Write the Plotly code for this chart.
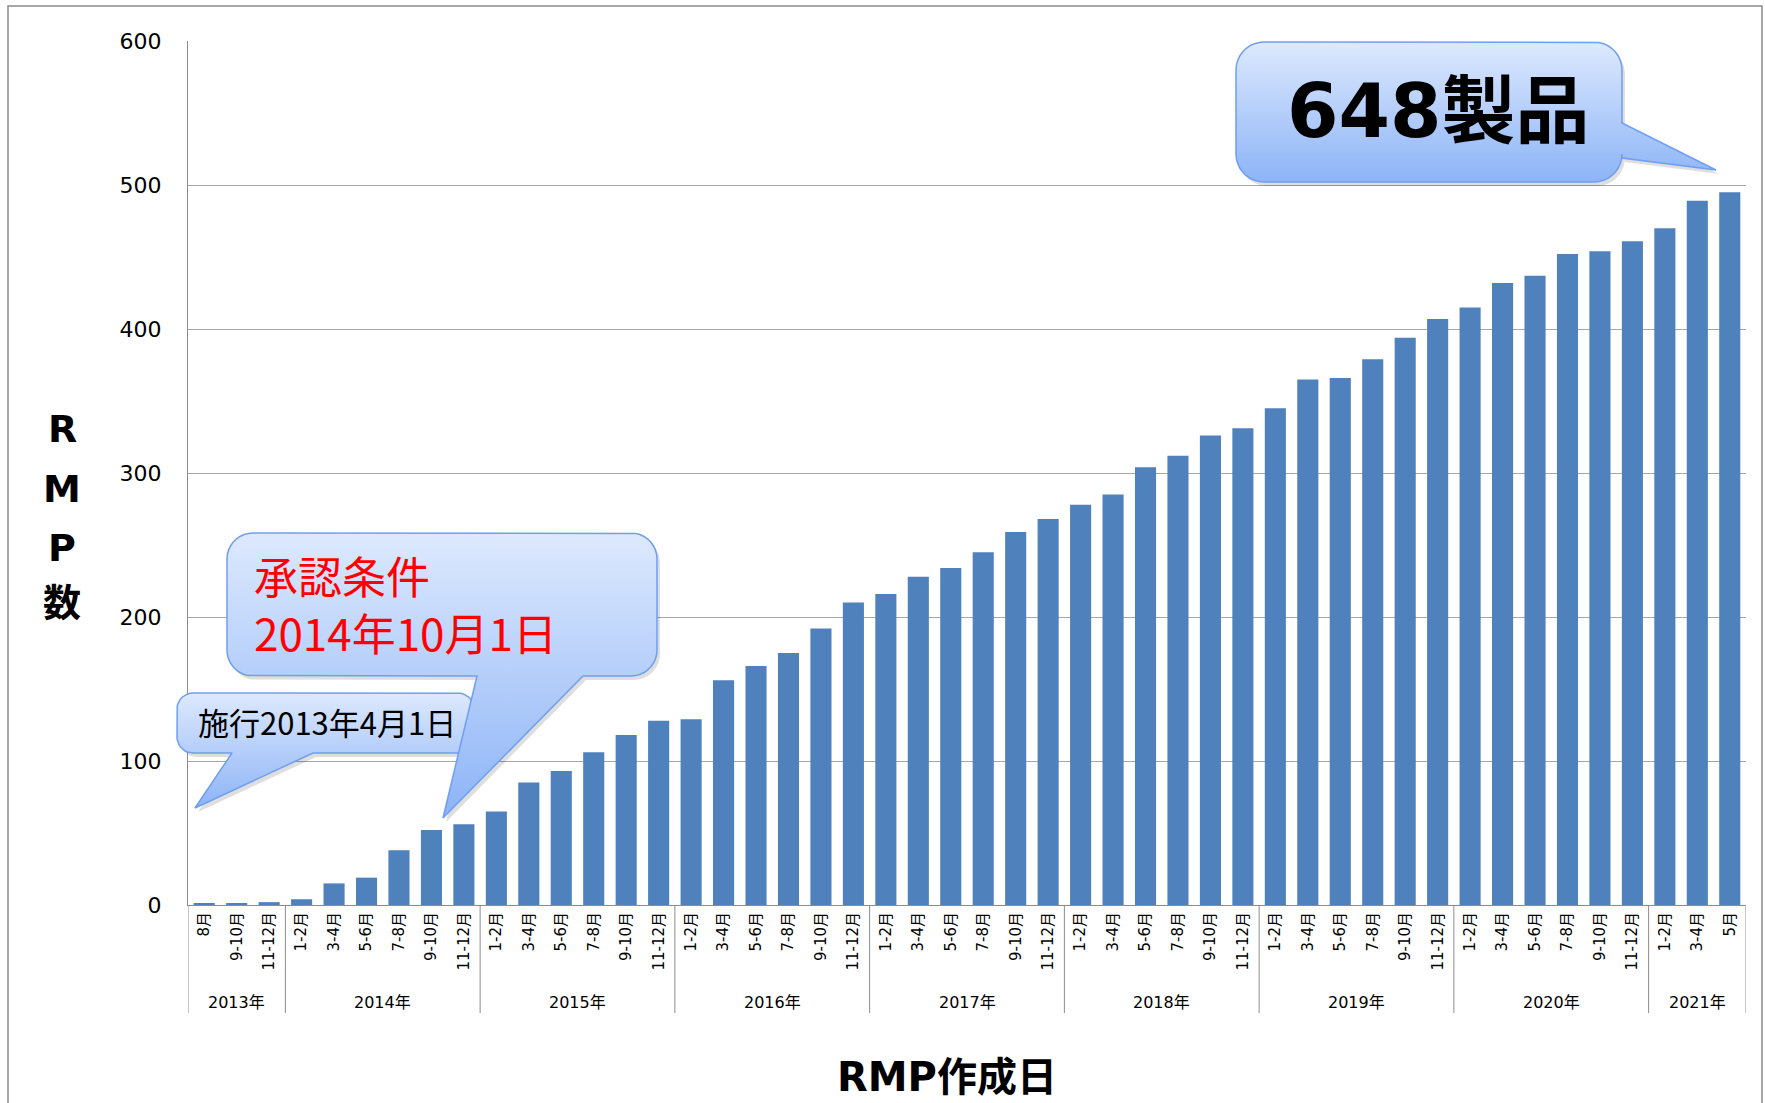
import numpy as np
import plotly.graph_objects as go

# ---------------- data ----------------
years = (["2013年"] * 3 + ["2014年"] * 6 + ["2015年"] * 6 + ["2016年"] * 6 +
         ["2017年"] * 6 + ["2018年"] * 6 + ["2019年"] * 6 + ["2020年"] * 6 +
         ["2021年"] * 3)
bi_months = ["1-2月", "3-4月", "5-6月", "7-8月", "9-10月", "11-12月"]
months = (["8月", "9-10月", "11-12月"] + bi_months * 7 +
          ["1-2月", "3-4月", "5月"])
rmp_counts = [1, 1, 2,
              4, 15, 19, 38, 52, 56,
              65, 85, 93, 106, 118, 128,
              129, 156, 166, 175, 192, 210,
              216, 228, 234, 245, 259, 268,
              278, 285, 304, 312, 326, 331,
              345, 365, 366, 379, 394, 407,
              415, 432, 437, 452, 454, 461,
              470, 489, 495]
y_ticks = [0, 100, 200, 300, 400, 500, 600]

W, H = 1765, 1103
BASE_FONT = "DejaVu Sans, Verdana, Noto Sans CJK JP, sans-serif"
CJK_FONT = "Noto Sans CJK JP, sans-serif"
BAR_COLOR = "#4f81bd"
GRID = "#a6a6a6"
AXIS = "#8c8c8c"

idx = list(range(len(months)))

fig = go.Figure()

fig.add_trace(go.Bar(
    x=idx, y=rmp_counts,
    marker=dict(color=BAR_COLOR, line=dict(width=0)),
    xaxis="x", yaxis="y", hoverinfo="skip", showlegend=False,
))


# ---------------- speech bubble geometry (pixel overlay) ----------------
def arc(cx, cy, r, a0, a1, n=10):
    t = np.radians(np.linspace(a0, a1, n))
    return list(cx + r * np.cos(t)), list(cy + r * np.sin(t))


def bubble(x0, y0, x1, y1, r, edge, ta, tb, tip):
    xs, ys = [], []

    def add(px, py):
        xs.extend(px)
        ys.extend(py)

    add([x0 + r, x1 - r], [y0, y0])
    add(*arc(x1 - r, y0 + r, r, -90, 0))
    if edge == "right":
        add([x1, tip[0], x1], [ta, tip[1], tb])
    add(*arc(x1 - r, y1 - r, r, 0, 90))
    if edge == "bottom":
        add([tb, tip[0], ta], [y1, tip[1], y1])
    add(*arc(x0 + r, y1 - r, r, 90, 180))
    add(*arc(x0 + r, y0 + r, r, 180, 270))
    xs.append(xs[0])
    ys.append(ys[0])
    return xs, ys


bubbles = [
    # (x0, y0, x1, y1, radius, tail edge, tail a, tail b, tip)
    (177, 693, 474, 753, 16, "bottom", 232, 313, (195, 808)),
    (227, 533, 657, 676, 26, "bottom", 477, 583, (443, 818)),
    (1236, 42, 1622, 182, 28, "right", 123, 158, (1716, 170)),
]

for (x0, y0, x1, y1, r, edge, ta, tb, tip) in bubbles:
    bx, by = bubble(x0, y0, x1, y1, r, edge, ta, tb, tip)
    fig.add_trace(go.Scatter(
        x=[v + 3 for v in bx], y=[v + 4 for v in by], mode="lines",
        fill="toself", fillcolor="rgba(0,0,0,0.13)", line=dict(width=0),
        xaxis="x2", yaxis="y2", hoverinfo="skip", showlegend=False,
    ))
    ymin, ymax = min(by), max(by)
    fig.add_trace(go.Scatter(
        x=bx, y=by, mode="lines", fill="toself",
        fillgradient=dict(type="vertical", start=ymin, stop=ymax,
                          colorscale=[[0, "#dde9fe"], [1, "#8db4f7"]]),
        line=dict(color="#6f9ff0", width=1.5),
        xaxis="x2", yaxis="y2", hoverinfo="skip", showlegend=False,
    ))

annotations = [
    dict(text="<b>648製品</b>", x=1438, y=111, xref="x2", yref="y2",
         showarrow=False, font=dict(family=BASE_FONT, size=74, color="black"),
         xanchor="center", yanchor="middle"),
    dict(text="承認条件<br>2014年10月1日", x=252, y=603, xref="x2", yref="y2",
         showarrow=False, align="left",
         font=dict(family=CJK_FONT, size=44, color="#ff0000"),
         xanchor="left", yanchor="middle"),
    dict(text="施行2013年4月1日", x=196, y=721, xref="x2", yref="y2",
         showarrow=False, font=dict(family=CJK_FONT, size=31, color="black"),
         xanchor="left", yanchor="middle"),
    dict(text="<b>RMP作成日</b>", x=947, y=1077, xref="x2", yref="y2",
         showarrow=False, font=dict(family=BASE_FONT, size=40, color="black"),
         xanchor="center", yanchor="middle"),
]
for ch, yy in zip(["R", "M", "P", "数"], [429, 489, 548, 603]):
    annotations.append(dict(
        text=f"<b>{ch}</b>", x=62, y=yy, xref="x2", yref="y2", showarrow=False,
        font=dict(family=BASE_FONT, size=38, color="black"),
        xanchor="center", yanchor="middle"))

# year group labels and dividers, from the category data
AX_Y = 1 - 905 / H          # paper y of the x axis
DIV_Y = 1 - 1013 / H        # bottom of group dividers
YEAR_Y = 1 - 1002 / H       # centre of year labels
groups = []
start = 0
for i in range(1, len(years) + 1):
    if i == len(years) or years[i] != years[start]:
        groups.append((years[start], start, i - 1))
        start = i

shapes = [dict(type="rect", xref="paper", yref="paper",
               x0=8 / W, y0=1 - 6 / H, x1=1762 / W, y1=-0.1,
               line=dict(color="#8c8c8c", width=1.5),
               fillcolor="rgba(0,0,0,0)", layer="below")]
for gi, (label, a, b) in enumerate(groups):
    annotations.append(dict(
        text=label, x=(a + b) / 2, y=YEAR_Y, xref="x", yref="paper",
        showarrow=False, font=dict(family=BASE_FONT, size=16, color="black"),
        xanchor="center", yanchor="middle"))
    shapes.append(dict(type="line", xref="x", yref="paper",
                       x0=a - 0.5, x1=a - 0.5, y0=AX_Y, y1=DIV_Y,
                       line=dict(color=AXIS, width=1)))
    if gi == len(groups) - 1:
        shapes.append(dict(type="line", xref="x", yref="paper",
                           x0=b + 0.5, x1=b + 0.5, y0=AX_Y, y1=DIV_Y,
                           line=dict(color=AXIS, width=1)))

fig.update_layout(
    width=W, height=H,
    margin=dict(l=0, r=0, t=0, b=0),
    paper_bgcolor="white", plot_bgcolor="rgba(0,0,0,0)",
    font=dict(family=BASE_FONT, color="black"),
    bargap=0.35,
    showlegend=False,
    annotations=annotations,
    shapes=shapes,
    xaxis=dict(
        domain=[188 / W, 1746 / W], anchor="y",
        range=[-0.5, len(months) - 0.5],
        tickvals=idx, ticktext=months,
        showline=True, linecolor=AXIS, linewidth=1,
        showgrid=False, zeroline=False, ticks="", tickangle=-90,
        tickfont=dict(family=BASE_FONT, size=15, color="black"),
        automargin=False, fixedrange=True,
    ),
    yaxis=dict(
        domain=[1 - 905 / H, 1 - 41 / H], anchor="x",
        range=[0, 600], tickvals=y_ticks, ticks="",
        showgrid=True, gridcolor=GRID, gridwidth=1,
        showline=True, linecolor=AXIS, linewidth=1, zeroline=False,
        tickfont=dict(family=BASE_FONT, size=22, color="black"),
        ticklabelstandoff=21, automargin=False, fixedrange=True,
    ),
    xaxis2=dict(domain=[0, 1], anchor="y2", range=[0, W], visible=False,
                fixedrange=True),
    yaxis2=dict(domain=[0, 1], anchor="x2", range=[H, 0], visible=False,
                fixedrange=True),
)

fig.write_html(
    "out.html",
    config={"displayModeBar": False},
    post_script="document.body.style.margin='0';"
                "document.body.style.overflow='hidden';",
)
